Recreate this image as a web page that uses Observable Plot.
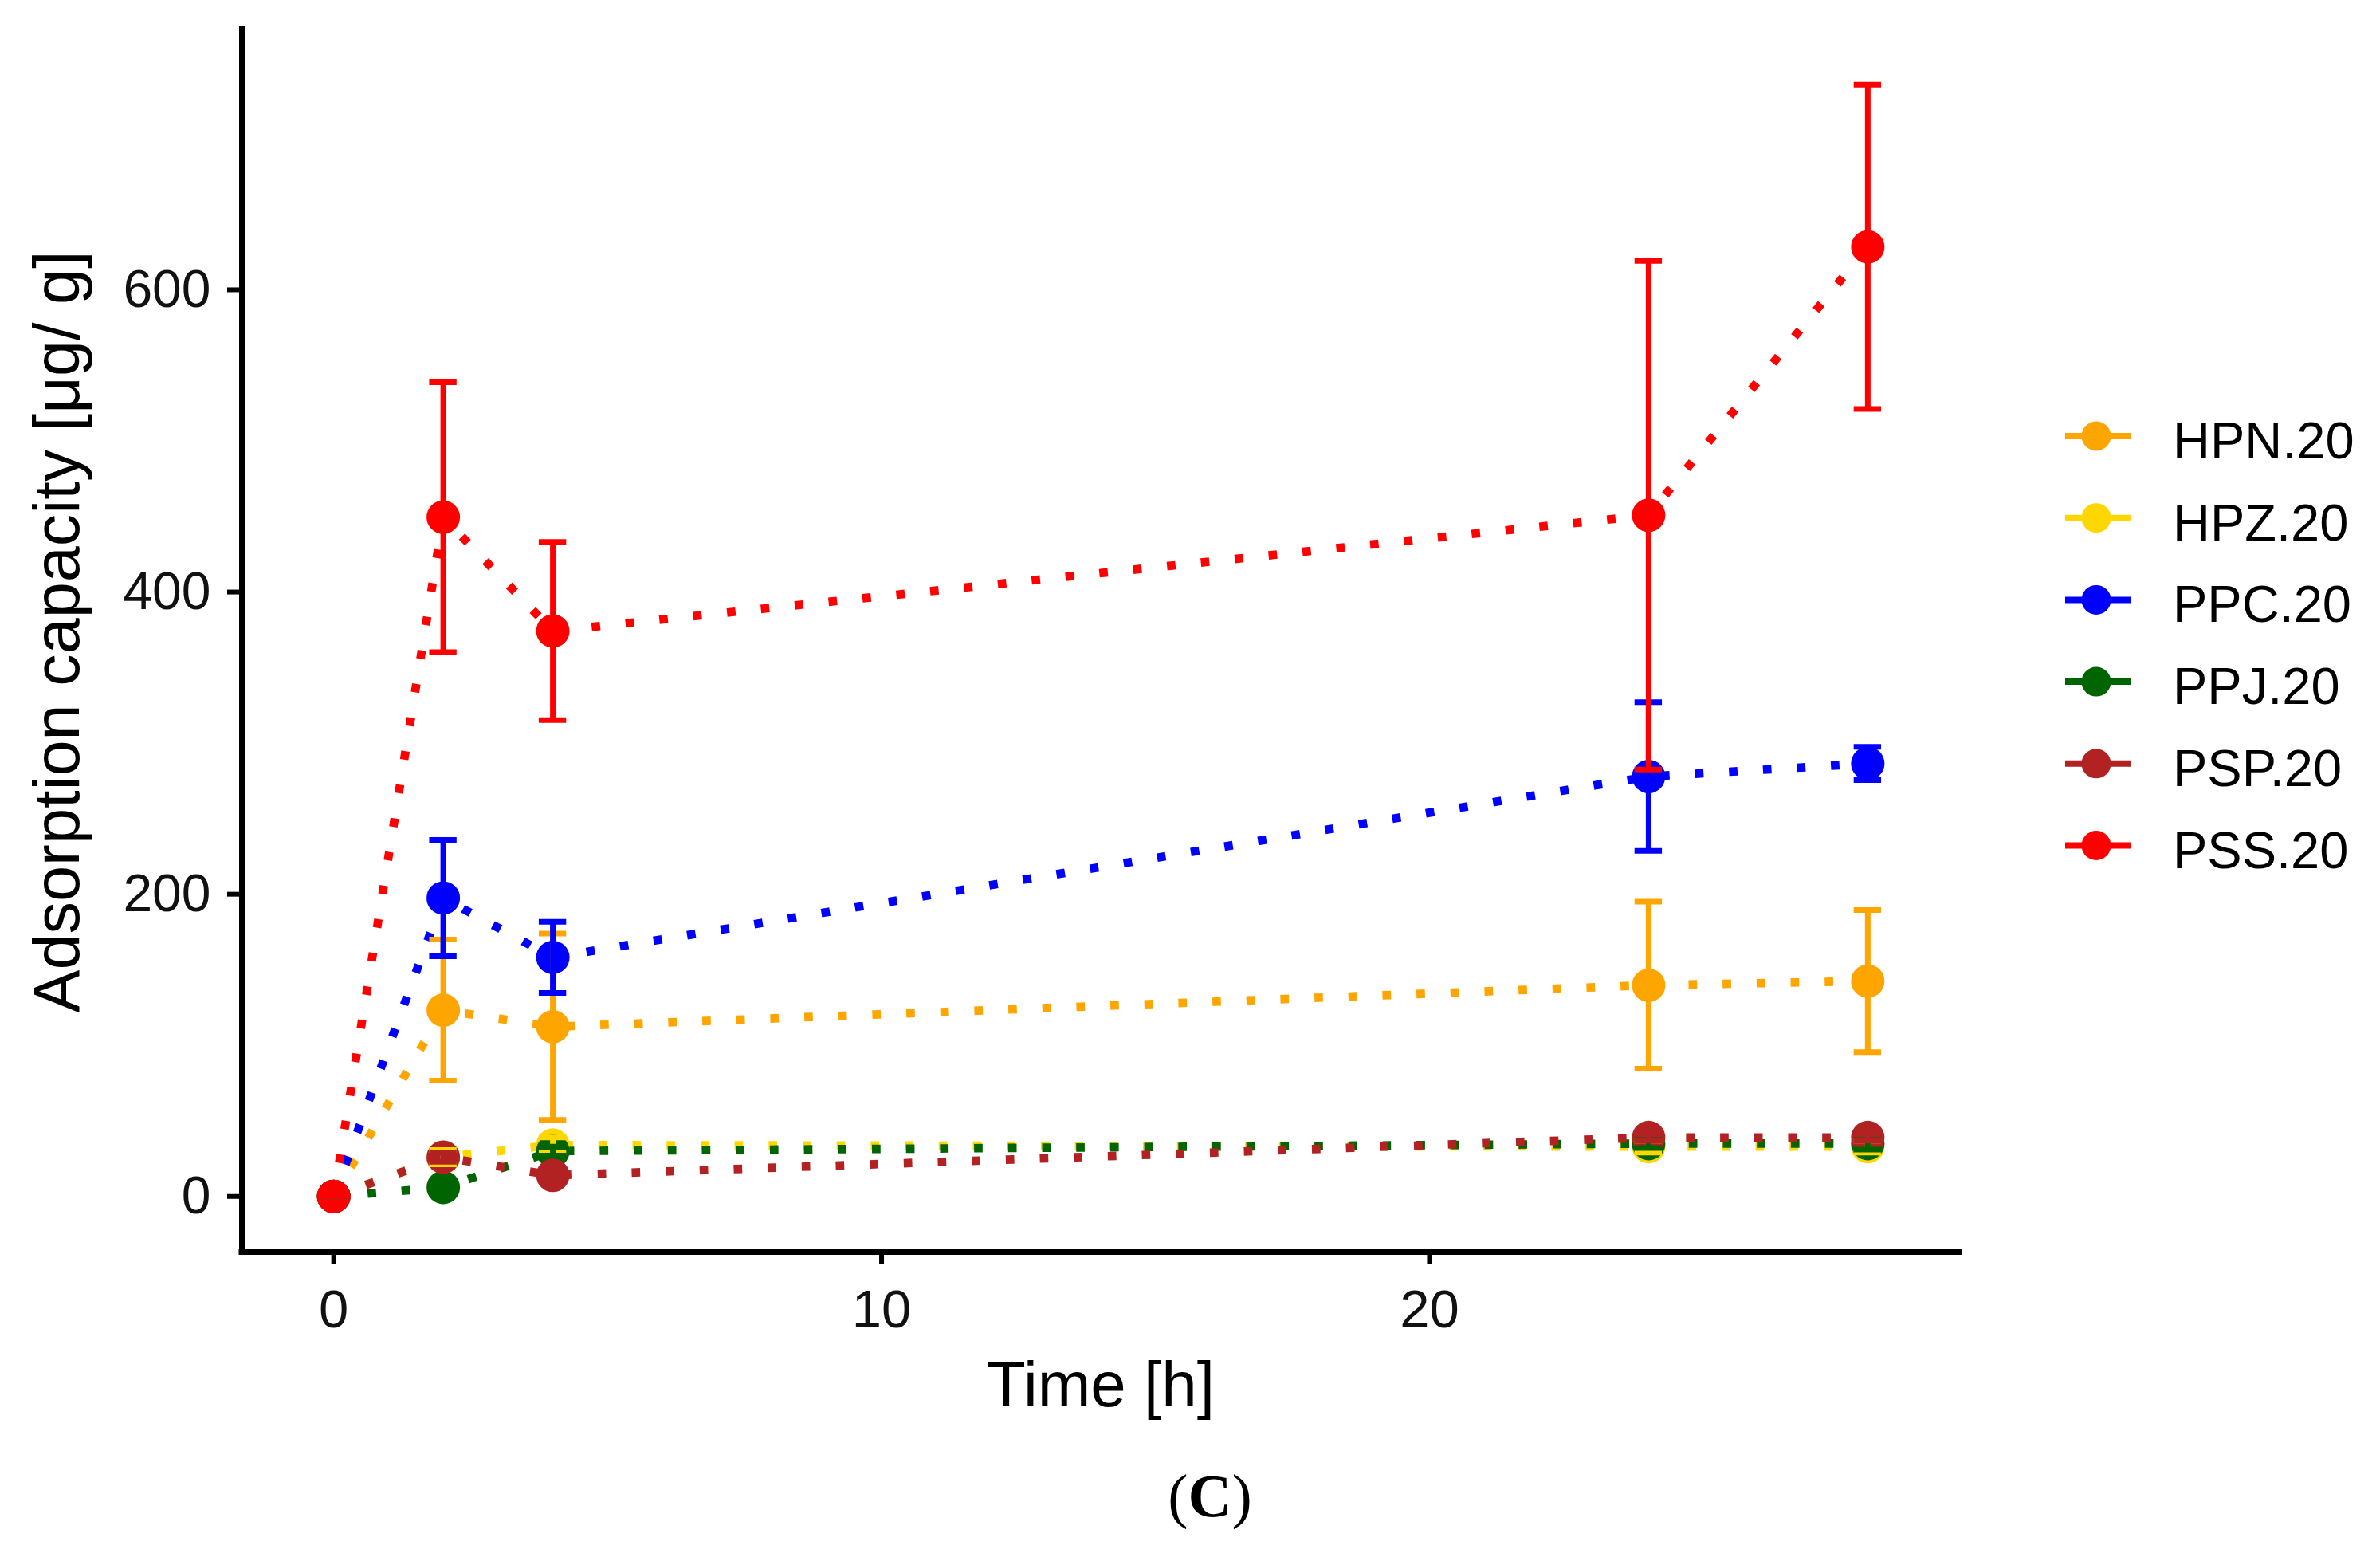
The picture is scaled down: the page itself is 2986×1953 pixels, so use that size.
<!DOCTYPE html>
<html>
<head>
<meta charset="utf-8">
<script src="https://cdn.jsdelivr.net/npm/d3@7"></script>
<script src="https://cdn.jsdelivr.net/npm/@observablehq/plot@0.6"></script>
<style>
  html, body { margin: 0; padding: 0; background: #fff; }
  #wrap { position: relative; width: 2986px; height: 1953px; overflow: hidden; }
  #wrap > svg { position: absolute; left: 0; top: 0; }
</style>
</head>
<body>
<div id="wrap"></div>
<script>
// ---- data ----
const times = [0, 2, 4, 24, 28];
const series = ["HPN.20", "HPZ.20", "PPC.20", "PPJ.20", "PSP.20", "PSS.20"];
const colors = ["#FFA500", "#FFD700", "#0000FF", "#006400", "#B22222", "#FF0000"];

const meanHPN = [0, 123.3, 112.3, 139.8, 142.5];
const sdHPN   = [0, 46.7, 61.7, 55.3, 47.0];
const meanHPZ = [0, 26, 34, 33, 33];
const sdHPZ   = [0, 4.8, 5, 4, 4];
const meanPPC = [0, 197.5, 158.2, 277.9, 286.5];
const sdPPC   = [0, 38.5, 23.5, 49.2, 11];
const meanPPJ = [0, 6, 30, 35, 35];
const sdPPJ   = [0, 2, 3, 3, 4];
const meanPSP = [0, 26, 14, 39, 39];
const sdPSP   = [0, 3, 3, 2, 2];
const meanPSS = [0, 449.5, 374.2, 450.8, 628.4];
const sdPSS   = [0, 89.3, 59.0, 168.3, 107.3];

const xTicks = [0, 10, 20];
const yTicks = [0, 200, 400, 600];
const xLabel = "Time [h]";
const yLabel = "Adsorption capacity [μg/ g]";
const caption = "C";

const means = [meanHPN, meanHPZ, meanPPC, meanPPJ, meanPSP, meanPSS];
const sds = [sdHPN, sdHPZ, sdPPC, sdPPJ, sdPSP, sdPSS];

const data = series.flatMap((s, i) => times.map((t, j) => ({
  series: s, time: t, mean: means[i][j],
  lo: means[i][j] - sds[i][j], hi: means[i][j] + sds[i][j]
})));

// ggplot-like domain expansion (errorbar width 0.5, 5% expansion)
const capHalf = 0.25;
const x0 = d3.min(times) - capHalf, x1 = d3.max(times) + capHalf;
const xPad = (x1 - x0) * 0.05;
const xDomain = [x0 - xPad, x1 + xPad];
const y0 = d3.min(data, d => d.lo), y1 = d3.max(data, d => d.hi);
const yPad = (y1 - y0) * 0.05;
const yDomain = [y0 - yPad, y1 + yPad];

const font = "'Liberation Sans', Arial, sans-serif";

const errMarks = series.flatMap(s => {
  const d = data.filter(r => r.series === s);
  return [
    Plot.ruleX(d, {x: "time", y1: "lo", y2: "hi", stroke: "series", strokeWidth: 7}),
    Plot.ruleY(d, {y: "hi", x1: r => r.time - capHalf, x2: r => r.time + capHalf, stroke: "series", strokeWidth: 7}),
    Plot.ruleY(d, {y: "lo", x1: r => r.time - capHalf, x2: r => r.time + capHalf, stroke: "series", strokeWidth: 7})
  ];
});

const chart = Plot.plot({
  width: 2986,
  height: 1800,
  marginLeft: 303,
  marginRight: 528,
  marginTop: 36,
  marginBottom: 230,
  style: {fontFamily: font, background: "white", overflow: "visible"},
  x: {domain: xDomain},
  y: {domain: yDomain},
  color: {domain: series, range: colors},
  marks: [
    Plot.line(data, {x: "time", y: "mean", stroke: "series", z: "series",
      strokeWidth: 10.7, strokeDasharray: "10.7,32", strokeLinecap: "butt"}),
    Plot.dot(data, {x: "time", y: "mean", fill: "series", r: 21, stroke: null}),
    ...errMarks,
    Plot.axisX({ticks: xTicks, tickSize: 16, tickPadding: 31, fontSize: 67, strokeWidth: 6, label: null, fill: "#111"}),
    Plot.axisY({ticks: yTicks, tickSize: 18, tickPadding: 21, fontSize: 66, strokeWidth: 6, label: null, fill: "#111"}),
    Plot.ruleX([xDomain[0]], {stroke: "black", strokeWidth: 7, strokeLinecap: "square"}),
    Plot.ruleY([yDomain[0]], {stroke: "black", strokeWidth: 7, strokeLinecap: "square"}),
    Plot.text([xLabel], {frameAnchor: "bottom", dy: 193, lineAnchor: "bottom", textAnchor: "middle", fontSize: 80, fill: "black"}),
    Plot.text([yLabel], {frameAnchor: "left", rotate: -90, dx: -205, dy: -11, lineAnchor: "bottom", textAnchor: "middle", fontSize: 81, fill: "black"})
  ]
});

const wrap = document.getElementById("wrap");
wrap.appendChild(chart);

// ---- legend + caption overlay ----
const ov = d3.select(wrap).append("svg")
  .attr("width", 2986).attr("height", 1953)
  .style("font-family", font);

const rowY = i => 547 + i * 102.7;
const lg = ov.append("g");
series.forEach((s, i) => {
  const g = lg.append("g");
  g.append("line").attr("x1", 2591).attr("x2", 2673).attr("y1", rowY(i)).attr("y2", rowY(i))
    .attr("stroke", colors[i]).attr("stroke-width", 8);
  g.append("circle").attr("cx", 2630).attr("cy", rowY(i)).attr("r", 18.5).attr("fill", colors[i]);
  g.append("text").attr("x", 2726).attr("y", rowY(i) + 28).attr("font-size", 65).attr("fill", "black").text(s);
});

const cap = ov.append("text").attr("x", 1518).attr("y", 1902).attr("text-anchor", "middle")
  .attr("font-family", "'Liberation Serif', 'Times New Roman', serif").attr("font-size", 76).attr("fill", "black");
cap.append("tspan").text("(");
cap.append("tspan").attr("font-weight", "bold").text(caption);
cap.append("tspan").text(")");
</script>
</body>
</html>
